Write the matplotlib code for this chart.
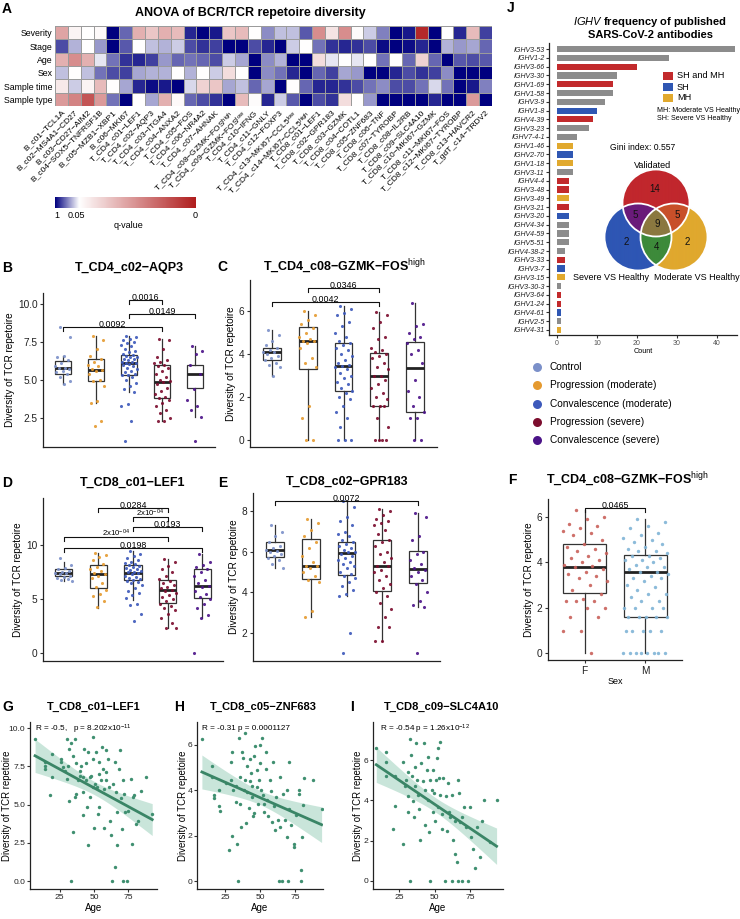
import numpy as np
import matplotlib
matplotlib.use('Agg')
import matplotlib.pyplot as plt
from matplotlib import font_manager
from matplotlib.colors import LinearSegmentedColormap, to_rgba
from matplotlib.patches import Circle, Rectangle
from matplotlib.ticker import FormatStrFormatter

_names = {f.name for f in font_manager.fontManager.ttflist}
SANS = 'Liberation Sans'
NARROW = 'Liberation Sans Narrow' if 'Liberation Sans Narrow' in _names else SANS

plt.rcParams['font.family'] = [SANS, 'DejaVu Sans']
plt.rcParams['mathtext.fontset'] = 'custom'
plt.rcParams['mathtext.rm'] = SANS
plt.rcParams['mathtext.it'] = SANS + ':italic'
plt.rcParams['mathtext.bf'] = SANS + ':bold'
plt.rcParams['axes.linewidth'] = 0.9

# ---------------- A: heatmap ----------------
heat_rows = ['Severity', 'Stage', 'Age', 'Sex', 'Sample time', 'Sample type']
heat_cols = ['B_c01−TCL1A', 'B_c02−MS4A1−CD27', 'B_c03−CD27−AIM2', 'B_c04−SOX5−TNFRSF1B',
             'B_c05−MZB1−XBP1', 'B_c06−MKI67', 'T_CD4_c01−LEF1', 'T_CD4_c02−AQP3',
             'T_CD4_c03−ITGA4', 'T_CD4_c04−ANXA2', 'T_CD4_c05−FOS', 'T_CD4_c06−NR4A2',
             'T_CD4_c07−AHNAK', r'T_CD4_c08−GZMK−FOS$^{\mathrm{high}}$',
             r'T_CD4_c09−GZMK−FOS$^{\mathrm{low}}$', 'T_CD4_c10−IFNG', 'T_CD4_c11−GNLY',
             'T_CD4_c12−FOXP3', r'T_CD4_c13−MKI67−CCL5$^{\mathrm{low}}$',
             r'T_CD4_c14−MKI67−CCL5$^{\mathrm{high}}$', 'T_CD8_c01−LEF1', 'T_CD8_c02−GPR183',
             'T_CD8_c03−GZMK', 'T_CD8_c04−COTL1', 'T_CD8_c05−ZNF683', 'T_CD8_c06−TNF',
             'T_CD8_c07−TYROBP', 'T_CD8_c08−IL2RB', 'T_CD8_c09−SLC4A10', 'T_CD8_c10−MKI67−GZMK',
             'T_CD8_c11−MKI67−FOS', 'T_CD8_c12−MKI67−TYROBP', 'T_CD8_c13−HAVCR2', 'T_gdT_c14−TRDV2']
# colour level: -1 = q ~ 1 (navy), 0 = q 0.05 (white), 1 = q ~ 0 (red)
lvl_severity = [0.4, 0.05, 0.0, 0.03, -1, -0.6, 0.35, 0.25, 0.35, 0.3, -0.85, -1, -0.9, 0.25, 0.3, 0.0, -0.45,
                -0.25, -0.25, -0.65, 0.5, 0.12, 0.5, 0.02, -0.2, -0.5, -1, -0.9, 0.95, -1, 0.0, -0.85, 0.3, -0.75]
lvl_stage = [-0.7, -0.3, 0, -0.4, -1, -0.65, 0, -0.25, -0.3, -0.2, -0.7, -0.8, -0.75, -1, -1, -0.7, -0.85,
             -1, -0.2, 0, -0.55, -0.8, -0.85, -0.8, -0.7, -0.95, -1, -0.95, -0.85, -1, -0.3, -0.4, -0.35, -0.6]
lvl_age = [0.35, 0.5, 0.35, -0.1, -0.55, -0.8, -0.85, -0.75, -0.4, -0.6, -0.55, -0.6, -0.7, -0.2, -0.35, -1,
           -0.45, -0.3, -1, -1, 0.15, -0.1, 0, -0.1, 0, -0.55, 0, -0.6, 0.2, -0.6, -1, -0.65, -0.7, -0.65]
lvl_sex = [-0.25, 0, -0.25, -0.55, -0.7, -0.75, -0.35, -0.3, -0.3, 0, -0.3, 0, -0.2, 0.15, 0, -1, -0.45,
           -0.55, -0.85, -1, -0.6, -0.75, -0.35, -0.4, -1, -1, -0.85, -0.7, -0.8, -0.75, -0.45, -1, -1, -1]
lvl_stime = [0.1, -0.2, 0.05, 0.3, 0, -0.35, -0.85, -0.95, -0.9, -1, -0.15, 0.2, 0.25, -0.35, -0.25, -0.6,
             -0.35, -1, 0, -0.6, -0.85, -0.85, -0.8, -0.7, -0.55, -0.45, -0.7, -0.7, -0.55, -0.15, -0.55, -1, -0.9, -0.5]
lvl_stype = [0.45, 0.55, 0.75, 0.45, -0.55, -1, 0, -0.35, 0.35, 0.03, -0.6, -0.7, -0.8, -1, 0.3, 0.02, -0.85,
             -0.2, -0.65, -1, -0.7, -0.8, 0.15, 0, -0.4, -1, -1, -1, -1, -0.85, -1, -1, 0.45, -1]

# ---------------- B-E: boxplots by group ----------------
group_names = ['Control', 'Progression (moderate)', 'Convalescence (moderate)',
               'Progression (severe)', 'Convalescence (severe)']
group_colors = ['#7b90c9', '#e59a2f', '#3d59bb', '#7c0d2e', '#4b1388']

B_pts = [
    [8.5, 7.8, 6.6, 6.5, 6.3, 6.1, 5.9, 5.8, 5.75, 5.7, 5.6, 5.5, 5.4, 5.2, 4.9, 4.7],
    [7.9, 7.6, 7.0, 6.6, 6.4, 6.2, 6.0, 5.9, 5.7, 5.65, 5.6, 5.4, 5.0, 4.9, 4.6, 3.6, 3.5, 2.3, 2.0],
    [7.9, 7.8, 7.7, 7.6, 7.5, 7.4, 7.3, 7.2, 7.0, 6.9, 6.8, 6.7, 6.65, 6.6, 6.5, 6.5, 6.4, 6.35, 6.3, 6.2,
     6.15, 6.1, 6.1, 6.05, 6.0, 5.9, 5.8, 5.7, 5.6, 5.5, 5.4, 5.35, 5.3, 5.2, 5.0, 4.8, 4.6, 4.4, 4.2,
     3.4, 3.3, 2.3, 1.0],
    [7.7, 7.6, 7.0, 6.5, 6.3, 6.2, 6.1, 6.0, 5.9, 5.8, 5.6, 5.4, 5.2, 5.0, 4.9, 4.85, 4.7, 4.5, 4.3, 4.1,
     3.9, 3.8, 3.7, 3.5, 3.3, 3.0, 2.8, 2.5, 2.3, 2.3],
    [7.2, 6.9, 6.7, 6.0, 5.4, 4.4, 3.7, 3.3, 3.0, 2.6, 1.0],
]
B_q1 = [5.4, 4.9, 5.35, 3.8, 4.45]
B_med = [5.75, 5.65, 6.1, 4.85, 5.4]
B_q3 = [6.25, 6.35, 6.65, 5.95, 6.0]
B_lo = [4.7, 3.5, 4.2, 2.3, 2.6]
B_hi = [6.6, 7.9, 7.9, 7.7, 7.2]
B_brackets = [(3, 4, 10.26, '0.0016'), (3, 5, 9.34, '0.0149'), (1, 4, 8.5, '0.0092')]

C_pts = [
    [5.1, 4.9, 4.6, 4.4, 4.3, 4.2, 4.1, 4.1, 4.0, 3.9, 3.8, 3.7, 3.6, 3.5, 3.4, 3.0],
    [6.0, 5.8, 5.6, 5.4, 5.2, 5.0, 4.8, 4.7, 4.6, 4.6, 4.5, 4.3, 3.8, 3.6, 3.4, 1.6, 1.0, 0.0, 0.0],
    [6.25, 6.1, 5.9, 5.8, 5.5, 5.3, 5.0, 4.8, 4.6, 4.5, 4.4, 4.3, 4.2, 4.0, 3.9, 3.7, 3.6, 3.5, 3.45, 3.4,
     3.3, 3.1, 3.0, 2.9, 2.7, 2.6, 2.4, 2.3, 2.2, 2.0, 1.9, 1.6, 1.3, 1.0, 0.6, 0.0, 0.0, 0.0],
    [5.95, 5.8, 5.5, 5.2, 4.8, 4.7, 4.3, 4.2, 4.1, 4.0, 3.9, 3.8, 3.6, 3.4, 3.3, 3.0, 3.0, 2.8, 2.6, 2.4,
     2.2, 2.0, 1.9, 1.6, 1.6, 1.6, 1.0, 0.6, 0.0, 0.0, 0.0, 0.0],
    [6.4, 5.4, 5.3, 5.0, 4.8, 4.7, 4.5, 4.2, 4.0, 3.6, 2.8, 2.3, 2.0, 1.6, 1.3, 1.0, 1.0, 0.0, 0.0],
]
C_q1 = [3.7, 3.3, 2.3, 1.6, 1.3]
C_med = [4.1, 4.6, 3.45, 3.0, 3.35]
C_q3 = [4.3, 5.25, 4.5, 4.05, 4.55]
C_lo = [3.0, 0.0, 0.0, 0.0, 0.0]
C_hi = [5.1, 6.0, 6.25, 5.95, 6.4]
C_brackets = [(2, 4, 7.07, '0.0346'), (1, 4, 6.42, '0.0042')]

D_pts = [
    [8.8, 8.2, 7.9, 7.8, 7.6, 7.5, 7.45, 7.4, 7.3, 7.2, 7.1, 7.0, 6.9, 6.8, 6.7],
    [9.3, 9.1, 8.9, 8.6, 8.3, 8.0, 7.8, 7.6, 7.4, 7.3, 7.2, 7.0, 6.5, 6.1, 5.9, 5.5, 5.3, 4.8, 4.3],
    [9.5, 9.2, 9.0, 8.8, 8.6, 8.5, 8.4, 8.3, 8.2, 8.1, 8.0, 7.9, 7.8, 7.7, 7.6, 7.5, 7.5, 7.4, 7.3, 7.2,
     7.1, 7.0, 6.9, 6.8, 6.7, 6.6, 6.5, 6.3, 6.0, 5.8, 5.6, 5.4, 5.1, 4.6, 4.5, 3.6, 3.0],
    [8.7, 8.5, 8.1, 7.8, 7.5, 7.2, 6.9, 6.7, 6.5, 6.3, 6.1, 6.0, 5.9, 5.8, 5.6, 5.4, 5.2, 5.0, 4.8, 4.6,
     4.4, 4.2, 4.0, 3.6, 3.3, 2.8, 2.3, 2.3],
    [9.2, 8.5, 8.2, 8.0, 7.8, 7.5, 7.2, 6.8, 6.5, 6.2, 6.1, 5.8, 5.5, 5.2, 5.0, 4.6, 4.2, 3.5, 3.3, 0.0],
]
D_q1 = [7.2, 6.0, 6.75, 4.65, 5.15]
D_med = [7.4, 7.3, 7.45, 5.9, 6.2]
D_q3 = [7.85, 8.15, 8.15, 6.8, 7.8]
D_lo = [6.7, 4.2, 4.9, 2.3, 3.3]
D_hi = [8.5, 9.3, 9.5, 8.7, 9.2]
D_brackets = [(2, 4, 13.5, '0.0284'), (3, 4, 12.6, r'2x10$^{-04}$'), (3, 5, 11.7, '0.0193'),
              (1, 4, 10.75, r'2x10$^{-04}$'), (1, 5, 9.75, '0.0198')]

E_pts = [
    [7.3, 7.0, 6.8, 6.5, 6.3, 6.2, 6.1, 6.05, 6.0, 5.9, 5.8, 5.7, 5.6, 5.4, 5.2],
    [7.6, 7.4, 7.1, 6.8, 6.5, 6.2, 5.8, 5.5, 5.3, 5.3, 5.2, 5.0, 4.8, 4.6, 4.5, 3.1, 2.8],
    [8.5, 8.2, 7.7, 7.5, 7.3, 7.0, 6.9, 6.8, 6.6, 6.5, 6.4, 6.3, 6.2, 6.1, 6.0, 6.0, 5.9, 5.8, 5.7, 5.6,
     5.5, 5.4, 5.3, 5.2, 5.0, 4.9, 4.8, 4.7, 4.5, 4.3, 4.1, 3.9, 3.8, 2.0, 1.0],
    [8.1, 8.0, 7.8, 7.6, 7.5, 7.4, 7.3, 7.1, 6.9, 6.6, 6.5, 6.3, 6.0, 5.9, 5.7, 5.5, 5.3, 5.3, 5.1, 5.0,
     4.8, 4.6, 4.4, 4.2, 4.0, 3.8, 3.5, 3.2, 2.8, 2.3, 2.3, 1.6, 1.6],
    [7.9, 7.7, 6.8, 6.6, 6.0, 5.9, 5.6, 5.4, 5.2, 5.1, 5.0, 4.8, 4.6, 4.4, 4.0, 3.6, 3.4, 3.3, 1.0],
]
E_q1 = [5.75, 4.65, 4.85, 4.05, 4.45]
E_med = [6.1, 5.3, 5.95, 5.3, 5.15]
E_q3 = [6.5, 6.65, 6.5, 6.6, 6.05]
E_lo = [5.2, 2.8, 3.8, 1.6, 3.3]
E_hi = [7.3, 7.6, 8.5, 8.1, 7.9]
E_brackets = [(1, 5, 8.5, '0.0072')]

# ---------------- F: by sex ----------------
sex_names = ['F', 'M']
sex_colors = ['#c9605a', '#80b4d6']
F_pts = [
    [6.3, 6.0, 5.9, 5.7, 5.6, 5.5, 5.4, 5.3, 5.2, 5.0, 4.8, 4.7, 4.6, 4.5, 4.4, 4.3, 4.2, 4.1, 4.0, 3.9,
     3.85, 3.8, 3.7, 3.6, 3.5, 3.4, 3.3, 3.2, 3.0, 2.8, 2.6, 2.4, 2.3, 2.3, 2.3, 2.0, 2.0, 1.6, 1.6, 1.0,
     1.0, 0.0],
    [5.9, 5.8, 5.6, 5.5, 5.3, 5.2, 5.1, 5.0, 4.9, 4.8, 4.7, 4.6, 4.5, 4.5, 4.4, 4.3, 4.3, 4.2, 4.1, 4.1,
     4.0, 3.9, 3.8, 3.8, 3.7, 3.6, 3.6, 3.5, 3.4, 3.3, 3.3, 3.2, 3.0, 2.9, 2.8, 2.6, 2.6, 2.5, 2.3, 2.3,
     2.0, 2.0, 2.0, 2.0, 1.6, 1.6, 1.6, 1.6, 1.6, 1.0, 1.0, 1.0, 1.0, 1.0, 0.0, 0.0, 0.0, 0.0, 0.0, 0.0,
     0.0, 0.0],
]
F_q1 = [2.65, 1.6]
F_med = [3.82, 3.6]
F_q3 = [4.8, 4.32]
F_lo = [0.0, 0.0]
F_hi = [6.3, 5.9]
F_brackets = [(1, 2, 6.4, '0.0465')]

# ---------------- G-I: diversity vs age ----------------
G_age = [7, 14, 14, 14, 19, 19, 18, 26, 26, 27.5, 28.5, 30, 30, 31, 32, 32, 33, 33.5, 35, 35, 36, 36, 37, 37,
         38, 39.5, 39.5, 40.5, 42, 42, 42, 43, 44, 44, 45, 45.5, 45.5, 47, 47, 48, 49, 49.5, 49, 50, 50.5,
         51.5, 52, 53, 54, 54, 54, 55, 56, 56.5, 57, 57.5, 58.5, 59, 59, 60, 61, 61.5, 62.5, 63, 64, 65,
         65.5, 66, 66.5, 67, 68.5, 69, 69.5, 70.5, 71, 71.5, 72, 73, 74, 74.5, 77, 78, 78.5, 79.5, 80.5, 82,
         84, 88, 92.5]
G_div = [9.3, 7.8, 7.35, 7.55, 8.3, 6.8, 5.6, 8.0, 7.8, 7.45, 7.2, 9.3, 6.7, 7.55, 5.25, 8.65, 0.0, 9.0, 3.2,
         8.2, 9.3, 5.5, 5.7, 7.7, 6.6, 6.9, 7.2, 7.55, 4.3, 5.8, 6.8, 8.65, 6.6, 7.7, 4.85, 2.35, 8.45, 6.8,
         5.5, 6.9, 9.4, 8.0, 6.15, 3.5, 6.35, 8.45, 6.15, 4.4, 7.8, 7.0, 4.85, 6.6, 8.75, 7.35, 3.5, 6.05,
         8.55, 7.1, 6.6, 8.0, 6.15, 3.95, 3.0, 0.0, 6.35, 7.8, 0.95, 5.8, 4.5, 2.35, 7.35, 8.55, 5.4, 3.4,
         6.6, 0.0, 5.7, 4.5, 0.0, 4.6, 6.7, 2.45, 5.5, 5.6, 3.75, 3.95, 5.9, 6.8, 4.4]

H_age = [8.5, 15.5, 15.5, 17, 17, 20.5, 20.5, 21.5, 27.5, 29, 29, 30, 30, 31, 32.5, 33.5, 34, 35, 35.5, 36,
         36.5, 37, 38, 38.5, 39, 39.5, 40, 40.5, 42, 42.5, 43, 43.5, 44.5, 45, 45.5, 46.5, 47.5, 48, 48.5,
         49, 50, 50, 50.5, 51.5, 52, 52.5, 54, 54.5, 55, 56, 57, 58, 58.5, 59.5, 60, 61, 61.5, 62.5, 63.5,
         64, 64.5, 65.5, 66.5, 67.5, 69, 69.5, 70, 70.5, 71, 72, 74, 74.5, 76, 77.5, 78, 79, 79.5, 80, 80.5,
         81.5, 88, 94, 26, 33, 41, 46, 53, 44]
H_div = [6.25, 5.05, 4.6, 3.8, 3.65, 4.0, 3.3, 3.1, 1.35, 5.25, 4.45, 2.0, 5.7, 4.0, 3.5, 1.65, 0.0, 6.3,
         4.6, 3.4, 2.4, 5.7, 5.4, 4.0, 6.5, 4.45, 2.55, 5.05, 3.2, 4.4, 5.35, 4.75, 3.7, 2.85, 5.5, 5.95,
         4.15, 4.9, 3.4, 4.45, 6.0, 5.2, 4.0, 6.3, 3.8, 3.05, 4.95, 5.7, 3.55, 2.85, 4.45, 3.95, 2.6, 5.25,
         3.3, 2.25, 3.7, 2.7, 0.0, 4.6, 2.4, 0.0, 3.85, 2.7, 4.0, 1.95, 0.0, 5.25, 3.15, 2.45, 1.65, 1.5,
         2.9, 4.0, 3.85, 0.5, 0.0, 1.95, 3.35, 4.55, 4.45, 3.15, 4.3, 4.2, 3.9, 3.0, 3.4, 4.2]

I_age = [9, 16, 16, 16, 22, 22, 21, 28, 28, 29, 30, 31, 31, 31.5, 33, 33, 33.5, 34, 35, 35.5, 36, 36.5, 37,
         37.5, 38.5, 39, 40, 40.5, 42, 42.5, 43, 43.5, 44.5, 45, 45.5, 46, 46.5, 47, 48, 48.5, 49, 49.5, 50,
         51, 51.5, 52, 52.5, 53, 53.5, 54, 55, 55.5, 56, 57, 58, 58.5, 59.5, 60, 61, 62, 62.5, 63, 64, 64.5,
         66, 66.5, 66.5, 67, 67.5, 69, 69.5, 70.5, 72, 73.5, 75, 75.5, 77, 78.5, 80, 82, 83, 85, 89, 93.5]
I_div = [6.6, 6.4, 5.9, 5.2, 5.2, 3.75, 2.6, 5.9, 1.85, 4.7, 5.0, 5.4, 4.2, 3.45, 7.05, 0.0, 6.25, 5.2,
         3.95, 3.2, 5.65, 4.7, 6.85, 5.0, 4.25, 3.6, 2.05, 5.85, 4.95, 6.85, 4.5, 2.8, 5.5, 4.0, 6.15, 2.45,
         5.0, 0.0, 4.5, 3.45, 5.5, 4.35, 3.0, 5.0, 6.1, 3.7, 6.6, 5.1, 6.9, 4.25, 2.6, 3.35, 5.1, 0.0, 4.2,
         2.5, 4.85, 3.45, 3.2, 0.0, 4.25, 2.05, 3.0, 1.35, 0.95, 0.0, 5.0, 4.35, 2.95, 0.0, 3.2, 3.7, 2.7,
         0.0, 3.7, 2.2, 1.6, 0.65, 2.7, 1.2, 3.0, 4.0, 1.95, 4.0]

# ---------------- J: IGHV frequency ----------------
ighv_genes = ['IGHV3-53', 'IGHV1-2', 'IGHV3-66', 'IGHV3-30', 'IGHV1-69', 'IGHV1-58', 'IGHV3-9', 'IGHV1-8',
              'IGHV4-39', 'IGHV3-23', 'IGHV7-4-1', 'IGHV1-46', 'IGHV2-70', 'IGHV1-18', 'IGHV3-11', 'IGHV4-4',
              'IGHV3-48', 'IGHV3-49', 'IGHV3-21', 'IGHV3-20', 'IGHV4-34', 'IGHV4-59', 'IGHV5-51',
              'IGHV4-38-2', 'IGHV3-33', 'IGHV3-7', 'IGHV3-15', 'IGHV3-30-3', 'IGHV3-64', 'IGHV1-24',
              'IGHV4-61', 'IGHV2-5', 'IGHV4-31']
ighv_counts = [44.5, 28, 20, 15, 14, 14, 12, 10, 9, 8, 5, 4, 4, 4, 4, 3, 3, 3, 3, 3, 3, 3, 3, 2, 2, 2, 2,
               1, 1, 1, 1, 1, 1]
ighv_group = ['none', 'none', 'both', 'none', 'both', 'none', 'none', 'SH', 'both', 'none', 'none', 'MH',
              'SH', 'MH', 'none', 'both', 'both', 'MH', 'both', 'SH', 'none', 'none', 'none', 'none', 'both',
              'SH', 'MH', 'none', 'both', 'both', 'SH', 'none', 'MH']
ighv_colors = {'none': '#8c8c8c', 'both': '#c22a2c', 'SH': '#2f57b3', 'MH': '#e1a92e'}
ighv_label_colors = {'none': '#3a3a3a', 'both': '#c22a2c', 'SH': '#2f57b3', 'MH': '#e1a92e'}
ighv_legend = [('both', 'SH and MH'), ('SH', 'SH'), ('MH', 'MH')]
venn_sets = ['Validated', 'Severe VS Healthy', 'Moderate VS Healthy']
venn_counts = {'V': '14', 'S': '2', 'M': '2', 'VS': '5', 'VM': '5', 'SM': '4', 'VSM': '9'}
gini_index = 0.557

# =====================================================================
W, H = 740, 919
fig = plt.figure(figsize=(W / 100, H / 100), dpi=100)


def px_ax(x0, y0, x1, y1):
    return fig.add_axes([x0 / W, 1 - y1 / H, (x1 - x0) / W, (y1 - y0) / H])


def classic(ax, fs=7.3, family=None, pad=1.5):
    for s in ['top', 'right']:
        ax.spines[s].set_visible(False)
    for s in ['left', 'bottom']:
        ax.spines[s].set_color('#222222')
    ax.tick_params(length=2.5, width=0.8, color='#333333', labelsize=fs, labelcolor='#222222', pad=pad)
    if family:
        for t in ax.get_xticklabels() + ax.get_yticklabels():
            t.set_family(family)


def draw_box(ax, pts, q1, med, q3, lo, hi, cols, width=0.5, jit=0.5, s=5):
    stats = [dict(q1=a, med=b, q3=c, whislo=d, whishi=e, fliers=[])
             for a, b, c, d, e in zip(q1, med, q3, lo, hi)]
    ax.bxp(stats, positions=np.arange(1, len(stats) + 1), widths=width, showcaps=False,
           showfliers=False, patch_artist=True,
           boxprops=dict(facecolor='none', edgecolor='#333333', linewidth=0.9),
           medianprops=dict(color='#222222', linewidth=2.0),
           whiskerprops=dict(color='#333333', linewidth=0.9))
    for i, vals in enumerate(pts):
        vals = np.asarray(vals, float)
        offs = ((np.arange(len(vals)) * 0.6180339887 + 0.31) % 1.0 - 0.5) * jit
        ax.scatter(i + 1 + offs, vals, s=s, color=cols[i], linewidths=0, zorder=3, alpha=0.9)


def bracket(ax, a, b, y, label, fs=6.4):
    y0, y1 = ax.get_ylim()
    d = 4 * (y1 - y0) / (ax.get_position().height * H)
    ax.plot([a, a, b, b], [y - d, y, y, y - d], color='#111111', lw=0.8, zorder=4, clip_on=False)
    if '$' in label:
        fs = 5.6
    ax.text((a + b) / 2, y - 0.5 * d, label, ha='center', va='bottom', fontsize=fs, zorder=5)


def box_panel(box, pts, q1, med, q3, lo, hi, brackets, ylim, yticks, fmt, cols, xlim=(0.4, 5.6),
              width=0.5, jit=0.5, s=5):
    ax = px_ax(*box)
    ax.set_xlim(*xlim)
    ax.set_ylim(*ylim)
    draw_box(ax, pts, q1, med, q3, lo, hi, cols, width=width, jit=jit, s=s)
    ax.set_yticks(yticks)
    ax.yaxis.set_major_formatter(FormatStrFormatter(fmt))
    ax.set_ylabel('Diversity of TCR repetoire', fontsize=7.2, labelpad=2)
    classic(ax)
    for a, b, y, lab in brackets:
        bracket(ax, a, b, y, lab)
    return ax


# ---- A heatmap
cmap = LinearSegmentedColormap.from_list('qv', [(0, '#00007f'), (0.5, '#ffffff'), (1, '#b01e1e')])
axh = px_ax(55, 26, 492, 106)
Z = np.array([lvl_severity, lvl_stage, lvl_age, lvl_sex, lvl_stime, lvl_stype])
axh.pcolormesh(Z, cmap=cmap, vmin=-1, vmax=1, edgecolors='#9b9b9b', linewidth=0.7)
axh.set_xlim(0, Z.shape[1])
axh.set_ylim(Z.shape[0], 0)
axh.set_yticks(np.arange(len(heat_rows)) + 0.5)
axh.set_yticklabels(heat_rows, fontsize=6.3)
axh.set_xticks(np.arange(len(heat_cols)) + 0.5)
axh.set_xticklabels(heat_cols, rotation=45, ha='right', va='top', rotation_mode='anchor', fontsize=6)
axh.tick_params(length=0, pad=2)
for sp in axh.spines.values():
    sp.set_visible(False)

cax = px_ax(55, 197, 195, 208)
p = np.linspace(0, 1, 300)
lv = np.where(p < 0.17, p / 0.17 - 1, (p - 0.17) / 0.83)
cax.imshow(lv[None, :], aspect='auto', cmap=cmap, vmin=-1, vmax=1, extent=(0, 1, 0, 1))
cax.axis('off')

# ---- B-E
cols5 = group_colors
box_panel((43, 293, 215, 447), B_pts, B_q1, B_med, B_q3, B_lo, B_hi, B_brackets,
          (0.6, 10.7), [2.5, 5.0, 7.5, 10.0], '%.1f', cols5).set_xticks([])
box_panel((250, 280, 437, 447), C_pts, C_q1, C_med, C_q3, C_lo, C_hi, C_brackets,
          (-0.33, 7.45), [0, 2, 4, 6], '%d', cols5).set_xticks([])
box_panel((43, 498, 223, 661), D_pts, D_q1, D_med, D_q3, D_lo, D_hi, D_brackets,
          (-0.74, 14.4), [0, 5, 10], '%d', cols5).set_xticks([])
box_panel((253, 493, 440, 661), E_pts, E_q1, E_med, E_q3, E_lo, E_hi, E_brackets,
          (0.62, 8.9), [2, 4, 6, 8], '%d', cols5).set_xticks([])

# ---- F
axf = box_panel((548, 499, 682, 660), F_pts, F_q1, F_med, F_q3, F_lo, F_hi, F_brackets,
                (-0.3, 6.8), [0, 2, 4, 6], '%d', sex_colors, xlim=(0.4, 2.6), width=0.7, jit=0.75, s=6)
axf.set_xticks([1, 2])
axf.set_xticklabels(sex_names, fontsize=7.3)
axf.set_xlabel('Sex', fontsize=6.5, labelpad=1)


# ---- G-I
def reg_panel(box, x, y, xlim, ylim, yticks, fmt, label_x):
    ax = px_ax(*box)
    x = np.asarray(x, float)
    y = np.asarray(y, float)
    n = len(x)
    b1, b0 = np.polyfit(x, y, 1)
    xx = np.linspace(x.min(), x.max(), 100)
    yy = b0 + b1 * xx
    s2 = np.sum((y - (b0 + b1 * x)) ** 2) / (n - 2)
    se = np.sqrt(s2 * (1 / n + (xx - x.mean()) ** 2 / np.sum((x - x.mean()) ** 2)))
    ax.fill_between(xx, yy - 1.98 * se, yy + 1.98 * se, color='#a6d5c2', alpha=0.6, lw=0, zorder=1)
    ax.scatter(x, y, s=6, color='#3f8f70', linewidths=0, zorder=3)
    ax.plot(xx, yy, color='#3a8566', lw=2, zorder=4)
    ax.set_xlim(*xlim)
    ax.set_ylim(*ylim)
    ax.set_xticks([25, 50, 75])
    ax.set_yticks(yticks)
    ax.yaxis.set_major_formatter(FormatStrFormatter(fmt))
    ax.set_xlabel('Age', fontsize=7, family=NARROW, labelpad=1.5)
    ax.set_ylabel('Diversity of TCR repetoire', fontsize=6.9, va='center')
    x0 = box[0]
    ax.yaxis.set_label_coords((label_x - x0) / (box[2] - x0), 0.5)
    classic(ax, fs=6.1, family=NARROW, pad=1)
    return ax


reg_panel((30, 722, 157, 889), G_age, G_div, (3.3, 96), (-0.52, 10.4), [0, 2.5, 5, 7.5, 10], '%.1f', 7)
reg_panel((197, 722, 323, 889), H_age, H_div, (5, 95), (-0.35, 7.0), [0, 2, 4, 6], '%d', 183)
reg_panel((373, 722, 503, 889), I_age, I_div, (6.7, 98), (-0.4, 7.9), [0, 2, 4, 6], '%d', 358)

# ---- J bars
axj = px_ax(549, 43, 737, 335)
ypos = np.arange(len(ighv_genes))
axj.barh(ypos, ighv_counts, height=0.7, color=[ighv_colors[g] for g in ighv_group])
axj.set_ylim(len(ighv_genes) - 0.43, -0.7)
axj.set_xlim(-2, 45)
axj.set_yticks(ypos)
axj.set_yticklabels(ighv_genes, fontsize=5, style='italic')
for t, g in zip(axj.get_yticklabels(), ighv_group):
    t.set_color(ighv_label_colors[g])
axj.set_xticks([0, 10, 20, 30, 40])
axj.set_xlabel('Count', fontsize=5.2, labelpad=0.5)
classic(axj, fs=5)
axj.tick_params(axis='x', labelcolor='#555555', length=2)
axj.tick_params(axis='y', length=2, pad=1)

# ---- overlay (pixel coordinates)
ov = fig.add_axes([0, 0, 1, 1])
ov.set_xlim(0, W)
ov.set_ylim(H, 0)
ov.axis('off')
ov.patch.set_alpha(0)

for letter, x, y in [('A', 2, 9), ('B', 2, 268), ('C', 217, 267), ('D', 2, 483), ('E', 218, 483),
                     ('F', 508, 480), ('G', 2, 707), ('H', 174, 707), ('I', 350, 707), ('J', 507, 8)]:
    ov.text(x, y, letter, fontsize=10, fontweight='bold', ha='left', va='center')

ov.text(250, 13, 'ANOVA of BCR/TCR repetoire diversity', fontsize=9, fontweight='bold',
        ha='center', va='center')
for s, x in [('1', 57), ('0.05', 76), ('0', 195)]:
    ov.text(x, 216, s, fontsize=6.5, ha='center', va='center')
ov.text(128, 225, 'q-value', fontsize=6.5, ha='center', va='center')

for s, x, y in [('T_CD4_c02−AQP3', 129, 268), (r'T_CD4_c08−GZMK−FOS$^{\mathrm{high}}$', 344, 267),
                ('T_CD8_c01−LEF1', 133, 483), ('T_CD8_c02−GPR183', 347, 482),
                (r'T_CD4_c08−GZMK−FOS$^{\mathrm{high}}$', 627, 480)]:
    ov.text(x, y, s, fontsize=9, fontweight='bold', ha='center', va='center')
for s, x in [('T_CD8_c01−LEF1', 94), ('T_CD8_c05−ZNF683', 263), ('T_CD8_c09−SLC4A10', 442)]:
    ov.text(x, 707, s, fontsize=8, fontweight='bold', ha='center', va='center', family=NARROW)
for s, x in [(r'R = -0.5,   p = 8.202x10$^{-11}$', 35), ('R = -0.31 p = 0.0001127', 202),
             (r'R = -0.54 p = 1.26x10$^{-12}$', 380)]:
    ov.text(x, 729, s, fontsize=5.9, ha='left', va='center', family=NARROW)

# group legend
for i, (name, col) in enumerate(zip(group_names, group_colors)):
    yy = 367 + i * 18.3
    ov.scatter([537], [yy], s=42, color=col, linewidths=0)
    ov.text(550, yy, name, fontsize=7.3, ha='left', va='center')

# J title and legend
ov.text(650, 22, r'$\it{IGHV}$ frequency of published', fontsize=8, fontweight='bold',
        ha='center', va='center', family=NARROW)
ov.text(650, 35, 'SARS-CoV-2 antibodies', fontsize=8, fontweight='bold', ha='center', va='center',
        family=NARROW)
for i, (key, lab) in enumerate(ighv_legend):
    yy = 76 + i * 11
    ov.add_patch(Rectangle((663, yy - 4), 10, 8, color=ighv_colors[key], lw=0))
    ov.text(677, yy, lab, fontsize=6.6, ha='left', va='center')
ov.text(657, 111, 'MH: Moderate VS Healthy', fontsize=5.1, ha='left', va='center')
ov.text(657, 119, 'SH: Severe VS Healthy', fontsize=5.1, ha='left', va='center')
ov.text(643, 148, 'Gini index: %.3f' % gini_index, fontsize=6.2, ha='center', va='center')

# Venn
cR, cS, cM, r = (656, 203), (638, 237), (674, 237), 33.5
xs = np.linspace(600, 712, 450)
ys = np.linspace(165, 275, 440)
X, Y = np.meshgrid(xs, ys)
inR = (X - cR[0]) ** 2 + (Y - cR[1]) ** 2 <= r ** 2
inS = (X - cS[0]) ** 2 + (Y - cS[1]) ** 2 <= r ** 2
inM = (X - cM[0]) ** 2 + (Y - cM[1]) ** 2 <= r ** 2
code = inR * 1 + inS * 2 + inM * 4
region_col = {1: '#c1272d', 2: '#2e56b4', 4: '#e0a82e', 3: '#6a1b7a', 5: '#c8502a', 6: '#3d8a3a',
              7: '#8b7840'}
img = np.zeros(code.shape + (4,))
for k, c in region_col.items():
    img[code == k] = to_rgba(c)
ov.imshow(img, extent=(600, 712, 275, 165), aspect='auto', interpolation='antialiased', zorder=2)
for c in (cR, cS, cM):
    ov.add_patch(Circle(c, r, fill=False, ec='white', lw=1.3, zorder=3))
for key, (x, y) in {'V': (655, 189), 'VS': (635, 215), 'VM': (677, 215), 'VSM': (657, 224),
                    'S': (626, 242), 'SM': (656, 247), 'M': (687, 242)}.items():
    ov.text(x, y, venn_counts[key], fontsize=7, ha='center', va='center', zorder=4, color='#111111')
ov.text(653, 165, venn_sets[0], fontsize=6.5, ha='center', va='center')
ov.text(611, 277, venn_sets[1], fontsize=6.5, ha='center', va='center')
ov.text(697, 277, venn_sets[2], fontsize=6.5, ha='center', va='center')
ov.set_xlim(0, W)
ov.set_ylim(H, 0)

fig.savefig('out.png', dpi=100)
